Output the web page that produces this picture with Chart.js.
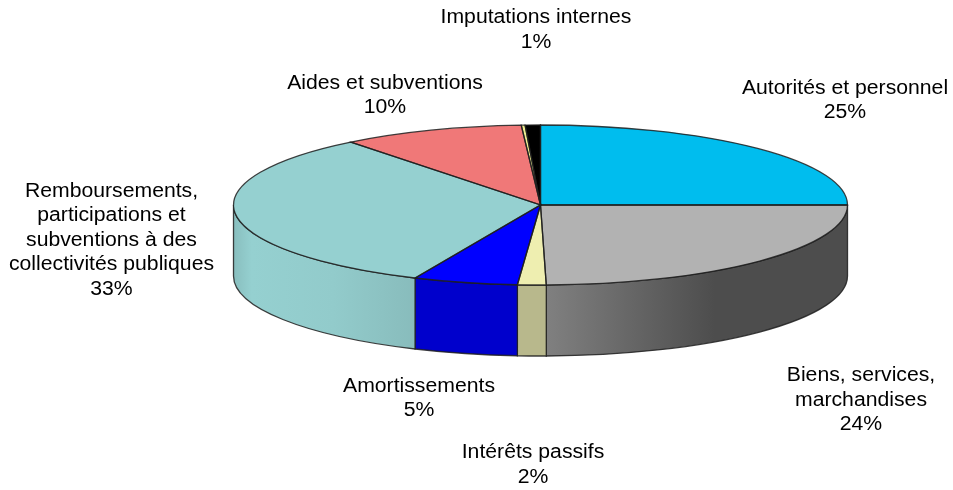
<!DOCTYPE html>
<html>
<head>
<meta charset="utf-8">
<style>
    html, body { margin: 0; padding: 0; background: #fff; }
    canvas { display: block; }
</style>
<script src="https://cdn.jsdelivr.net/npm/chart.js@4"></script>
</head>
<body>
<canvas id="chart1" width="953" height="490"></canvas>
<script>
// le dernier quartier jaune n'a pas d'etiquette sur l'original
const categories = [
    ['Autorités et personnel'],
    ['Biens, services,', 'marchandises'],
    ['Intérêts passifs'],
    ['Amortissements'],
    ['Remboursements,', 'participations et', 'subventions à des', 'collectivités publiques'],
    ['Aides et subventions'],
    [],
    ['Imputations internes']
];
const values = [25, 24.7, 1.5, 5.5, 32.7, 9.6, 0.2, 0.8];
const percentLabels = ['25%', '24%', '2%', '5%', '33%', '10%', '', '1%'];

const topColors = ['#00bdee', '#b2b2b2', '#eeeeb0', '#0000ff', '#95d0d0', '#f07878', '#eeee90', '#000000'];
// degrade de la paroi : [position, couleur]
const wallColors = [
    [[0, '#008fb5'], [1, '#008fb5']],
    [[0, '#808080'], [0.56, '#4d4d4d'], [1, '#4d4d4d']],
    [[0, '#b8b88c'], [1, '#b8b88c']],
    [[0, '#0000cc'], [1, '#0000cc']],
    [[0, '#88bebe'], [0.1, '#95d0d0'], [0.55, '#92cbcb'], [1, '#88bcbc']],
    [[0, '#b85c5c'], [1, '#b85c5c']],
    [[0, '#b8b870'], [1, '#b8b870']],
    [[0, '#000000'], [1, '#000000']]
];
// centre de chaque etiquette et y de la premiere ligne
const labelAnchors = [
    [845, 88], [861, 375.5], [533, 452.5], [419, 386], [111.5, 191], [385, 83], [0, 0], [536, 17.5]
];

const pieX = 540.5, pieY = 205, pieRx = 307, pieRy = 80, pieDepth = 71;
const lineHeight = 24.5;
const textStretch = 1.06;
const outline = 'rgba(30, 30, 30, 0.85)';

const pie3d = {
    id: 'pie3d',
    beforeDatasetsDraw(chart) {
        const ctx = chart.ctx;
        const arcs = chart.getDatasetMeta(0).data;
        // la paroi, seulement la moitie avant
        arcs.forEach((arc, i) => {
            const a0 = Math.max(arc.startAngle, 0);
            const a1 = Math.min(arc.endAngle, Math.PI);
            if (a1 - a0 < 0.001) return;
            const x0 = pieX + pieRx * Math.cos(a1);
            const x1 = pieX + pieRx * Math.cos(a0);
            const grad = ctx.createLinearGradient(x0, 0, x1, 0);
            wallColors[i].forEach(s => grad.addColorStop(s[0], s[1]));
            ctx.beginPath();
            ctx.ellipse(pieX, pieY, pieRx, pieRy, 0, a0, a1);
            ctx.ellipse(pieX, pieY + pieDepth, pieRx, pieRy, 0, a1, a0, true);
            ctx.closePath();
            ctx.fillStyle = grad;
            ctx.fill();
            ctx.strokeStyle = outline;
            ctx.lineWidth = 1.3;
            ctx.stroke();
        });
        // le disque du dessus est le pie de Chart.js, aplati
        const first = arcs[0];
        ctx.save();
        ctx.translate(pieX, pieY);
        ctx.scale(pieRx / first.outerRadius, pieRy / first.outerRadius);
        ctx.translate(-first.x, -first.y);
    },
    afterDatasetsDraw(chart) {
        const ctx = chart.ctx;
        ctx.restore();
        chart.getDatasetMeta(0).data.forEach(arc => {
            ctx.beginPath();
            ctx.moveTo(pieX, pieY);
            ctx.ellipse(pieX, pieY, pieRx, pieRy, 0, arc.startAngle, arc.endAngle);
            ctx.closePath();
            ctx.strokeStyle = outline;
            ctx.lineWidth = 1.3;
            ctx.stroke();
        });
    },
    afterDraw(chart) {
        const ctx = chart.ctx;
        ctx.save();
        ctx.fillStyle = '#000';
        ctx.font = '20px "Liberation Sans", Arial, sans-serif';
        ctx.textAlign = 'center';
        ctx.textBaseline = 'middle';
        categories.forEach((lines, i) => {
            const all = lines.concat(percentLabels[i]);
            all.forEach((text, n) => {
                ctx.save();
                ctx.translate(labelAnchors[i][0], labelAnchors[i][1] + n * lineHeight);
                ctx.scale(textStretch, 1);
                ctx.fillText(text, 0, 0);
                ctx.restore();
            });
        });
        ctx.restore();
    }
};

document.addEventListener('DOMContentLoaded', () => {
    new Chart(document.getElementById('chart1').getContext('2d'), {
        type: 'pie',
        data: {
            labels: categories.map(c => c.join(' ')),
            datasets: [{
                data: values,
                backgroundColor: topColors,
                borderWidth: 0,
                clip: false
            }]
        },
        options: {
            responsive: false,
            animation: false,
            plugins: {
                legend: { display: false },
                tooltip: { enabled: false }
            }
        },
        plugins: [pie3d]
    });
});
</script>
</body>
</html>
